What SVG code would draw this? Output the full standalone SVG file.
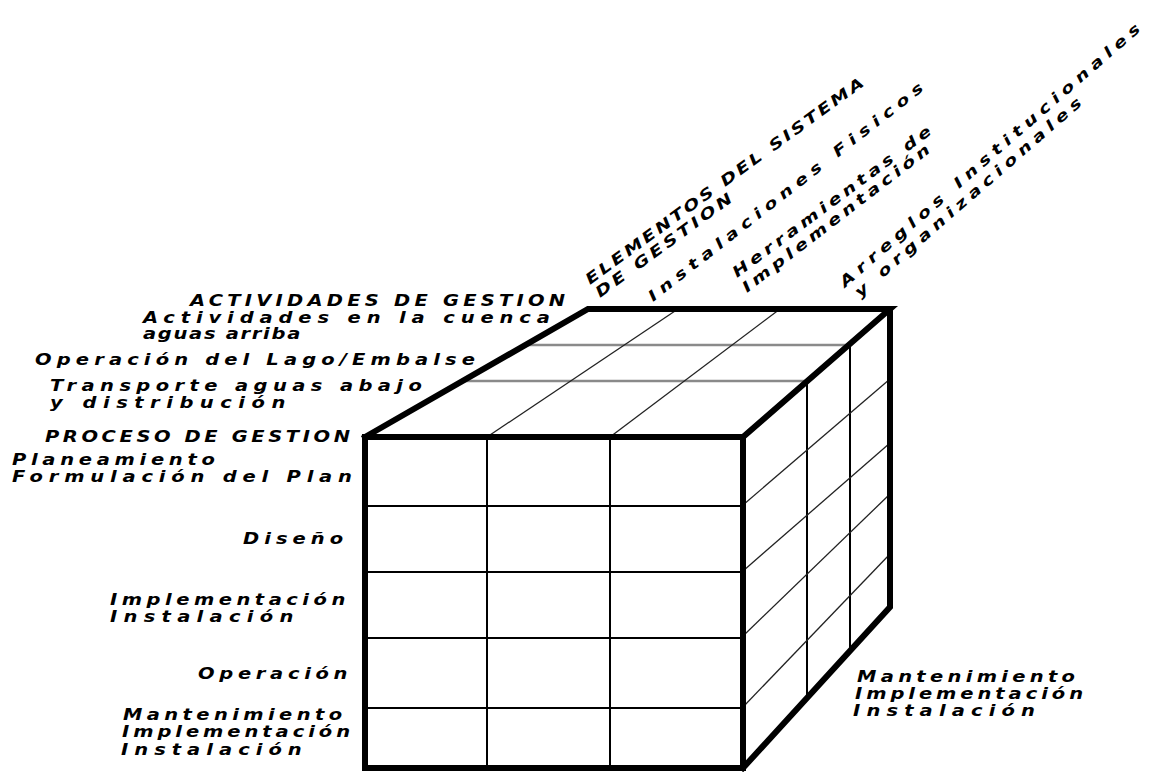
<svg xmlns="http://www.w3.org/2000/svg" width="1150" height="772" viewBox="0 0 1150 772">
<style>
text{font-family:"DejaVu Sans","Liberation Sans",sans-serif;font-weight:bold;font-style:italic;font-size:15px;fill:#000}
.thick{stroke:#000;stroke-width:6;fill:none;stroke-linejoin:miter;stroke-linecap:square}
.thin{stroke:#000;stroke-width:2;fill:none}
.diag{stroke:#222;stroke-width:1.3;fill:none}
.gray{stroke:#8a8a8a;stroke-width:2.5;fill:none}
</style>
<rect width="1150" height="772" fill="#fff"/>
<g id="cube">
  <g id="top-face-grid">
    <line class="gray" x1="525" y1="345" x2="849" y2="345"/>
    <line class="gray" x1="463" y1="381" x2="807" y2="381"/>
    <line class="diag" x1="487" y1="437" x2="678" y2="309"/>
    <line class="diag" x1="610" y1="437" x2="780" y2="309"/>
  </g>
  <g id="front-face-grid">
    <line class="thin" x1="487" y1="437" x2="487" y2="768"/>
    <line class="thin" x1="610" y1="437" x2="610" y2="768"/>
    <line class="thin" x1="365" y1="506" x2="743" y2="506"/>
    <line class="thin" x1="365" y1="572" x2="743" y2="572"/>
    <line class="thin" x1="365" y1="638" x2="743" y2="638"/>
    <line class="thin" x1="365" y1="708" x2="743" y2="708"/>
  </g>
  <g id="right-face-grid">
    <line class="thin" x1="807" y1="381" x2="807" y2="698"/>
    <line class="thin" x1="850" y1="345" x2="850" y2="651"/>
    <line class="diag" x1="743" y1="505" x2="890" y2="379"/>
    <line class="diag" x1="743" y1="571" x2="890" y2="443"/>
    <line class="diag" x1="743" y1="636" x2="890" y2="494"/>
    <line class="diag" x1="743" y1="707" x2="890" y2="554"/>
  </g>
  <g id="outline">
    <rect class="thick" x="365" y="437" width="378" height="331"/>
    <polyline class="thick" points="365,437 588,309 890,309 743,437"/>
    <polyline class="thick" points="890,309 890,607 743,768"/>
  </g>
</g>
<g id="activities-labels">
  <text transform="translate(190,306) scale(1.3,1)" textLength="288.5" lengthAdjust="spacing">ACTIVIDADES DE GESTION</text>
  <text transform="translate(143,323) scale(1.3,1)" textLength="313" lengthAdjust="spacing">Actividades en la cuenca</text>
  <text transform="translate(143,339) scale(1.3,1)" textLength="121" lengthAdjust="spacing">aguas arriba</text>
  <text transform="translate(35,365) scale(1.3,1)" textLength="338.5" lengthAdjust="spacing">Operación del Lago/Embalse</text>
  <text transform="translate(50,391) scale(1.3,1)" textLength="286" lengthAdjust="spacing">Transporte aguas abajo</text>
  <text transform="translate(50,408) scale(1.3,1)" textLength="181" lengthAdjust="spacing">y distribución</text>
</g>
<g id="process-labels">
  <text transform="translate(45,442) scale(1.3,1)" textLength="234.6" lengthAdjust="spacing">PROCESO DE GESTION</text>
  <text transform="translate(12,465) scale(1.3,1)" textLength="156" lengthAdjust="spacing">Planeamiento</text>
  <text transform="translate(12,482) scale(1.3,1)" textLength="261.5" lengthAdjust="spacing">Formulación del Plan</text>
  <text transform="translate(243,544) scale(1.3,1)" textLength="77" lengthAdjust="spacing">Diseño</text>
  <text transform="translate(110,605) scale(1.3,1)" textLength="181" lengthAdjust="spacing">Implementación</text>
  <text transform="translate(110,622) scale(1.3,1)" textLength="141" lengthAdjust="spacing">Instalación</text>
  <text transform="translate(198,679) scale(1.3,1)" textLength="115" lengthAdjust="spacing">Operación</text>
  <text transform="translate(123,720) scale(1.3,1)" textLength="168.5" lengthAdjust="spacing">Mantenimiento</text>
  <text transform="translate(122,737) scale(1.3,1)" textLength="175.4" lengthAdjust="spacing">Implementación</text>
  <text transform="translate(121,755) scale(1.3,1)" textLength="139" lengthAdjust="spacing">Instalación</text>
</g>
<g id="right-labels">
  <text transform="translate(857,682) scale(1.3,1)" textLength="167.7" lengthAdjust="spacing">Mantenimiento</text>
  <text transform="translate(855,699) scale(1.3,1)" textLength="175.4" lengthAdjust="spacing">Implementación</text>
  <text transform="translate(853,716) scale(1.3,1)" textLength="140" lengthAdjust="spacing">Instalación</text>
</g>
<g id="elements-labels">
  <text transform="translate(590,285) rotate(-36) scale(1.3,1)" textLength="261.5" lengthAdjust="spacing">ELEMENTOS DEL SISTEMA</text>
  <text transform="translate(600,298) rotate(-36) scale(1.3,1)" textLength="127" lengthAdjust="spacing">DE GESTION</text>
  <text transform="translate(653,302) rotate(-38) scale(1.3,1)" textLength="265" lengthAdjust="spacing">Instalaciones Fisicos</text>
  <text transform="translate(737,278) rotate(-36.5) scale(1.3,1)" textLength="187" lengthAdjust="spacing">Herramientas de</text>
  <text transform="translate(747,293) rotate(-37.5) scale(1.3,1)" textLength="178.5" lengthAdjust="spacing">Implementación</text>
  <text transform="translate(845,288) rotate(-41) scale(1.3,1)" textLength="302" lengthAdjust="spacing">Arreglos Institucionales</text>
  <text transform="translate(860,298) rotate(-41) scale(1.3,1)" textLength="227" lengthAdjust="spacing">y organizacionales</text>
</g>
</svg>
